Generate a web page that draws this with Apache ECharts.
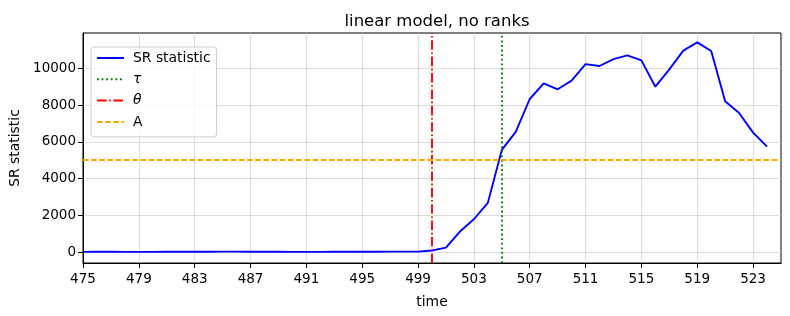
<!DOCTYPE html>
<html>
<head>
<meta charset="utf-8">
<script src="https://cdn.jsdelivr.net/npm/echarts@6/dist/echarts.min.js"></script>
<style>html,body{margin:0;padding:0;background:#fff;}#c{width:790px;height:316px;}</style>
</head>
<body>
<div id="c"></div>
<script>
const times = [475,476,477,478,479,480,481,482,483,484,485,486,487,488,489,490,491,492,493,494,495,496,497,498,499,500,501,502,503,504,505,506,507,508,509,510,511,512,513,514,515,516,517,518,519,520,521,522,523,524];
const srValues = [15,18,20,17,14,16,19,22,25,21,30,28,24,20,18,15,14,16,18,20,22,25,28,30,30,90,250,1120,1790,2680,5560,6540,8330,9180,8860,9330,10230,10125,10500,10700,10430,9000,9945,10960,11413,10940,8206,7570,6500,5740];
const tauTime = 505;
const thetaTime = 500;
const thresholdA = 5030;
const xTicks = [475,479,483,487,491,495,499,503,507,511,515,519,523];
const yTicks = [0,2000,4000,6000,8000,10000];

const FONT = 'DejaVu Sans';
const LW = 1.9;
const chart = echarts.init(document.getElementById('c'), null, {renderer:'canvas'});
const gridColor = '#d3d3d3';
const option = {
  animation: false,
  backgroundColor: '#fff',
  title: {
    text: 'linear model, no ranks', left: 432, top: 8, textAlign: 'center',
    textStyle: {fontFamily: FONT, fontSize: 16.5, fontWeight: 'normal', color: '#000'}
  },
  grid: {left: 83, right: 9, top: 33, bottom: 53, show: true, borderColor: '#000', borderWidth: 1, backgroundColor: 'transparent'},
  legend: {
    orient: 'vertical', left: 91, top: 47,
    padding: [4, 6, 8, 5],
    itemWidth: 27, itemHeight: 14, itemGap: 7.3,
    backgroundColor: 'rgba(255,255,255,0.8)', borderColor: '#cccccc', borderWidth: 1, borderRadius: 3,
    itemStyle: {color: 'rgba(0,0,0,0)', borderColor: 'rgba(0,0,0,0)', borderWidth: 0},
    data: ['SR statistic', 'τ', 'θ', 'A'],
    formatter: function (n) { return (n === 'τ' || n === 'θ') ? '{i|' + n + '}' : n; },
    textStyle: {fontFamily: FONT, fontSize: 13.9, color: '#000', padding: [0,0,0,4],
      rich: {i: {fontFamily: FONT, fontStyle: 'italic', fontSize: 13.9, color: '#000'}}}
  },
  xAxis: {
    type: 'value', min: 475, max: 525,
    name: 'time', nameLocation: 'middle', nameGap: 32,
    nameTextStyle: {fontFamily: FONT, fontSize: 13.9, color: '#000'},
    axisLine: {show: true, onZero: false, lineStyle: {color: '#000', width: 1}},
    axisTick: {show: true, length: 5, lineStyle: {color: '#000'}, customValues: xTicks},
    axisLabel: {fontFamily: FONT, fontSize: 13.5, color: '#000', margin: 9, customValues: xTicks,
      formatter: v => String(v)},
    splitLine: {show: true, lineStyle: {color: gridColor, width: 0.8}}
  },
  yAxis: {
    type: 'value', min: -590, max: 11920,
    name: 'SR statistic', nameLocation: 'middle', nameGap: 56, nameRotate: 90,
    nameTextStyle: {fontFamily: FONT, fontSize: 13.9, color: '#000'},
    axisLine: {show: true, onZero: false, lineStyle: {color: '#000', width: 1}},
    axisTick: {show: true, length: 5, lineStyle: {color: '#000'}, customValues: yTicks},
    axisLabel: {fontFamily: FONT, fontSize: 13.5, color: '#000', margin: 7, customValues: yTicks,
      formatter: v => String(v)},
    splitLine: {show: true, lineStyle: {color: gridColor, width: 0.8}}
  },
  series: [
    {
      name: 'SR statistic', type: 'line', showSymbol: false, symbol: 'none',
      data: times.map((t, i) => [t, srValues[i]]),
      lineStyle: {color: '#0000ff', width: LW}, itemStyle: {color: '#0000ff'}, z: 3
    },
    {
      name: 'τ', type: 'line', symbol: 'none', data: [],
      lineStyle: {color: '#008000', width: LW, type: [1.8, 2.8]}, itemStyle: {color: '#008000'},
      markLine: {silent: true, symbol: 'none', label: {show: false},
        lineStyle: {color: '#008000', width: LW, type: [1.8, 2.8]}, data: [{xAxis: tauTime}]}, z: 4
    },
    {
      name: 'θ', type: 'line', symbol: 'none', data: [],
      lineStyle: {color: '#ff0000', width: LW, type: [9.6, 2.6, 1.6, 2.6]}, itemStyle: {color: '#ff0000'},
      markLine: {silent: true, symbol: 'none', label: {show: false},
        lineStyle: {color: '#ff0000', width: LW, type: [9.6, 2.6, 1.6, 2.6]}, data: [{xAxis: thetaTime}]}, z: 4
    },
    {
      name: 'A', type: 'line', symbol: 'none', data: [],
      lineStyle: {color: '#ffa500', width: LW, type: [5.6, 2.6]}, itemStyle: {color: '#ffa500'},
      markLine: {silent: true, symbol: 'none', label: {show: false},
        lineStyle: {color: '#ffa500', width: LW, type: [5.6, 2.6]}, data: [{yAxis: thresholdA}]}, z: 4
    }
  ]
};
chart.setOption(option);
</script>
</body>
</html>
